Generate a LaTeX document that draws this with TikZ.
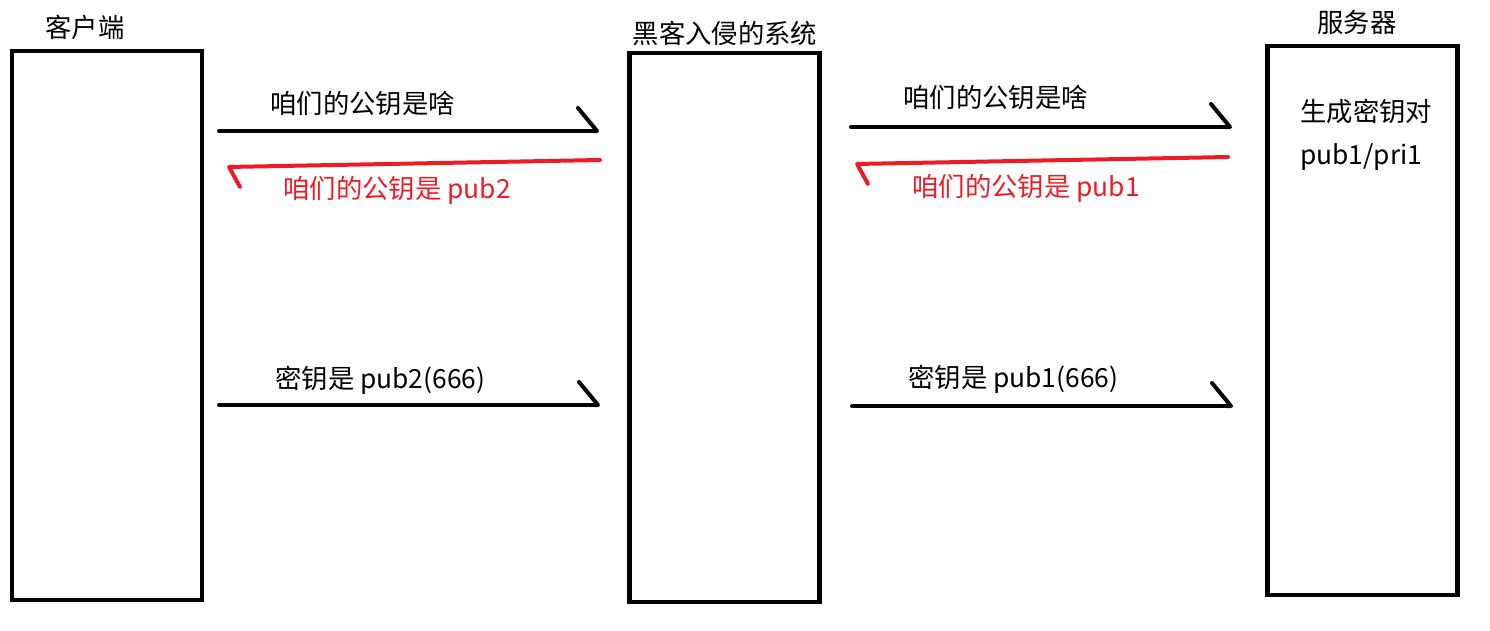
\documentclass[tikz,border=0pt]{standalone}
\usepackage{fontspec}
\setmainfont{Noto Sans CJK SC}
\usetikzlibrary{arrows.meta, positioning}
\definecolor{paintred}{RGB}{237,28,36}

\begin{document}
\begin{tikzpicture}[x=0.02cm, y=-0.02cm,
    station/.style={rectangle, draw=black, line width=0.09cm,
                    minimum width=3.8cm, minimum height=10.98cm, inner sep=0pt},
    title/.style={font=\fontsize{15}{18}\selectfont, inner sep=0pt},
    msg/.style={font=\fontsize{15}{18}\selectfont, inner sep=0pt, anchor=west},
    reply/.style={msg, text=paintred},
    send/.style={-{Straight Barb[left, length=0.38cm, width=0.92cm, round]},
                 line width=0.08cm, line cap=round},
    back/.style={-{Straight Barb[left, length=0.21cm, width=0.8cm, round]},
                 draw=paintred, line width=0.08cm, line cap=round}
]
\useasboundingbox (0,0) rectangle (1490,630);

\node (client) [station] at (107,325.5) {};
\node (hacker) [station] at (724.5,327.5) {};
\node (server) [station] at (1362.5,320.5) {};
\node (clientname) [title] at (85,27)   {客户端};
\node (hackername) [title] at (725,33)  {黑客入侵的系统};
\node (servername) [title] at (1357,22) {服务器};
\node (keygen)  [msg] at (1300,111) {生成密钥对};
\node (keypair) [msg] at (1300,157) {pub1/pri1};

% ends of the messages
\coordinate (ask1s) at (219,131);  \coordinate (ask1e) at (599,131);
\coordinate (ans1s) at (600,160);  \coordinate (ans1e) at (227,167);
\coordinate (ask2s) at (851,127);  \coordinate (ask2e) at (1232,127);
\coordinate (ans2s) at (1228,157); \coordinate (ans2e) at (855,164);
\coordinate (key1s) at (219,405);  \coordinate (key1e) at (600,405);
\coordinate (key2s) at (852,406);  \coordinate (key2e) at (1233,406);

\node (ask1) [msg]   at (270,103) {咱们的公钥是啥};
\node (ans1) [reply] at (283,190) {咱们的公钥是 pub2};
\node (ask2) [msg]   at (903,97)  {咱们的公钥是啥};
\node (ans2) [reply] at (912,188) {咱们的公钥是 pub1};
\node (key1) [msg]   at (275,380) {密钥是 pub2(666)};
\node (key2) [msg]   at (908,379) {密钥是 pub1(666)};

\draw [send] (ask1s) -- (ask1e);
\draw [back] (ans1s) -- (ans1e);
\draw [send] (ask2s) -- (ask2e);
\draw [back] (ans2s) -- (ans2e);
\draw [send] (key1s) -- (key1e);
\draw [send] (key2s) -- (key2e);
\end{tikzpicture}
\end{document}
